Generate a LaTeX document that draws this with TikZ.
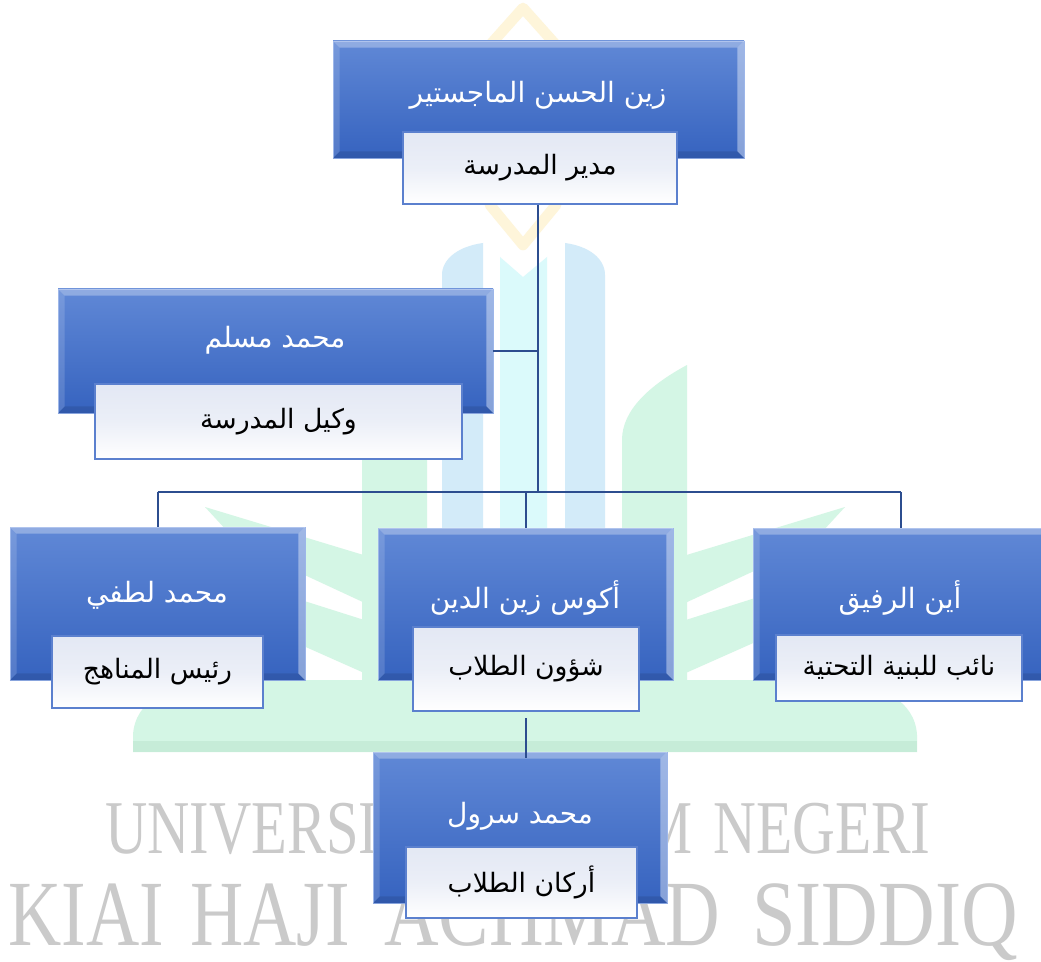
\documentclass[tikz,border=0pt]{standalone}
\usepackage{fontspec}
\setmainfont{Liberation Serif}
\newfontfamily\arabicfont[Script=Arabic]{DejaVu Sans}
\TeXXeTstate=1
\usetikzlibrary{calc}
\definecolor{bluetop}{HTML}{6088D6}
\definecolor{bluebot}{HTML}{3663BF}
\definecolor{frame}{HTML}{8EABE6}
\definecolor{conn}{HTML}{2C4D8F}
\definecolor{wtop}{HTML}{E3E8F4}
\definecolor{wborder}{HTML}{5B80CE}
\definecolor{wmgreen}{HTML}{D4F6E5}
\definecolor{wmgreend}{HTML}{C6ECD8}
\definecolor{wmblue}{HTML}{D3EBF9}
\definecolor{wmcyan}{HTML}{DBFAFB}
\definecolor{wmyellow}{HTML}{FEF5DA}
\definecolor{wmgray}{HTML}{CACACA}
\tikzset{
  bx/.style 2 args={minimum width=#1*0.75pt, minimum height=#2*0.75pt},
  bluebox/.style={rectangle, inner sep=0pt, draw=frame, line width=0.6pt, top color=bluetop, bottom color=bluebot},
  wbox/.style={rectangle, inner sep=0pt, draw=wborder, line width=1.2pt, top color=wtop, bottom color=white, middle color=wtop!70,
    font=\arabicfont\fontsize{20}{24}\selectfont, text=black},
  nametxt/.style={inner sep=0pt, font=\arabicfont\fontsize{21}{25}\selectfont, text=white},
  bevT/.style={fill=white, fill opacity=0.30},
  bevL/.style={fill=white, fill opacity=0.15},
  bevR/.style={fill=white, fill opacity=0.40},
  bevB/.style={fill=black, fill opacity=0.10},
  link/.style={draw=conn, line width=1.5pt},
  wmone/.style={inner sep=0pt, anchor=base west, text=wmgray, font=\fontsize{57}{57}\selectfont},
  wmtwo/.style={inner sep=0pt, anchor=base west, text=wmgray, font=\fontsize{70}{70}\selectfont},
}
\newcommand\bevel[1]{%
  \fill[bevT] (#1.north west) -- (#1.north east) -- ([shift={(-7,7)}]#1.north east) -- ([shift={(7,7)}]#1.north west) -- cycle;
  \fill[bevL] (#1.north west) -- ([shift={(7,7)}]#1.north west) -- ([shift={(7,-7)}]#1.south west) -- (#1.south west) -- cycle;
  \fill[bevR] (#1.north east) -- ([shift={(-7,7)}]#1.north east) -- ([shift={(-7,-7)}]#1.south east) -- (#1.south east) -- cycle;
  \fill[bevB] (#1.south west) -- ([shift={(7,-7)}]#1.south west) -- ([shift={(-7,-7)}]#1.south east) -- (#1.south east) -- cycle;
}
\begin{document}
\begin{tikzpicture}[x=0.75pt,y=-0.75pt]
\clip (0,0) rectangle (1041,962);
\fill[white] (0,0) rectangle (1041,962);
% ---------- watermark logo ----------
\draw[wmyellow, line width=8pt, line join=round] (523,8) -- (556,45) -- (556,205) -- (523,245) -- (490,205) -- (490,45) -- cycle;
\fill[wmgreen] (133,752) -- (133,735) .. controls (135,700) and (170,684) .. (215,680) -- (835,680) .. controls (880,684) and (915,700) .. (917,735) -- (917,752) -- cycle;
\fill[wmgreend] (133,741) rectangle (917,752);
\fill[wmgreen] (205,507) -- (380,560) -- (380,610) -- (240,545) -- cycle;
\fill[wmgreen] (175,560) -- (380,625) -- (380,680) -- (200,600) -- cycle;
\fill[wmgreen] (845,507) -- (670,560) -- (670,610) -- (810,545) -- cycle;
\fill[wmgreen] (875,560) -- (670,625) -- (670,680) -- (850,600) -- cycle;
\fill[wmgreen] (362,690) -- (362,440) .. controls (362,410) and (390,385) .. (427,365) -- (427,690) -- cycle;
\fill[wmgreen] (687,690) -- (687,365) .. controls (650,385) and (622,410) .. (622,440) -- (622,690) -- cycle;
\fill[wmblue] (442,690) -- (442,275) .. controls (442,258) and (460,246) .. (483,243) -- (483,690) -- cycle;
\fill[wmcyan] (500,690) -- (500,257) -- (523,277) -- (547,257) -- (547,690) -- cycle;
\fill[wmblue] (605,690) -- (605,275) .. controls (605,258) and (588,246) .. (565,243) -- (565,690) -- cycle;
% ---------- watermark text ----------
\node[wmone] (wm1a) at (105,853) {\scalebox{0.77}[1]{UNIVERSITAS}};
\node[wmone] (wm1b) at (510,853) {\scalebox{0.77}[1]{ISLAM}};
\node[wmone] (wm1c) at (713,853) {\scalebox{0.78}[1]{NEGERI}};
\node[wmtwo] (wm2a) at (8,945) {\scalebox{0.79}[1]{KIAI}};
\node[wmtwo] (wm2b) at (190,945) {\scalebox{0.79}[1]{HAJI}};
\node[wmtwo] (wm2c) at (384,945) {\scalebox{0.81}[1]{ACHMAD}};
\node[wmtwo] (wm2d) at (752,945) {\scalebox{0.84}[1]{SIDDIQ}};
% ---------- coordinates ----------
\coordinate (busc) at (538,492);
\coordinate (busl) at (157.5,492);
\coordinate (busr) at (900.5,492);
% ---------- boxes ----------
\node[bluebox, bx={411}{117}] (top) at (538.5,99.5) {};
\node[bluebox, bx={435}{124}] (muslim) at (275.5,351) {};
\node[bluebox, bx={295}{153}] (lutfi) at (157.5,603.5) {};
\node[bluebox, bx={295}{152}] (akus) at (525.5,604) {};
\node[bluebox, bx={295}{152}] (ain) at (900.5,604) {};
\node[bluebox, bx={294}{151}] (surur) at (520,827.5) {};
\bevel{top}\bevel{muslim}\bevel{lutfi}\bevel{akus}\bevel{ain}\bevel{surur}
\node[nametxt] (top-n) at (538,95) {\beginR زين الحسن الماجستير\endR};
\node[nametxt] (muslim-n) at (275,340) {\beginR محمد مسلم\endR};
\node[nametxt] (lutfi-n) at (157,595) {\beginR محمد لطفي\endR};
\node[nametxt] (akus-n) at (525,598) {\beginR أكوس زين الدين\endR};
\node[nametxt] (ain-n) at (900,598) {\beginR أين الرفيق\endR};
\node[nametxt] (surur-n) at (520,816) {\beginR محمد سرول\endR};
% ---------- connectors ----------
\node[wbox, bx={274}{72}] (top-t) at (540,168) {\beginR مدير المدرسة\endR};
\draw[link] (busc |- top-t.south) -- (busc);
\draw[link] (muslim.east) -- (muslim.east -| busc);
\draw[link] (busl) -- (busr);
\draw[link] (busl) -- (lutfi.north);
\draw[link] (busr) -- (ain.north);
\draw[link] (akus.north |- busc) -- (akus.north);
% ---------- title boxes ----------
\node[wbox, bx={367}{75}] (muslim-t) at (278.5,421.5) {\beginR وكيل المدرسة\endR};
\node[wbox, bx={211}{72}] (lutfi-t) at (157.5,672) {\beginR رئيس المناهج\endR};
\node[wbox, bx={226}{84}] (akus-t) at (526,669) {\beginR شؤون الطلاب\endR};
\node[wbox, bx={246}{66}] (ain-t) at (899,668) {\beginR نائب للبنية التحتية\endR};
\node[wbox, bx={231}{71}] (surur-t) at (521.5,882.5) {\beginR أركان الطلاب\endR};
\draw[link] ([yshift=-5pt]akus-t.south) -- ([yshift=-4.5pt]akus-t.south |- surur.north);
\end{tikzpicture}
\end{document}
